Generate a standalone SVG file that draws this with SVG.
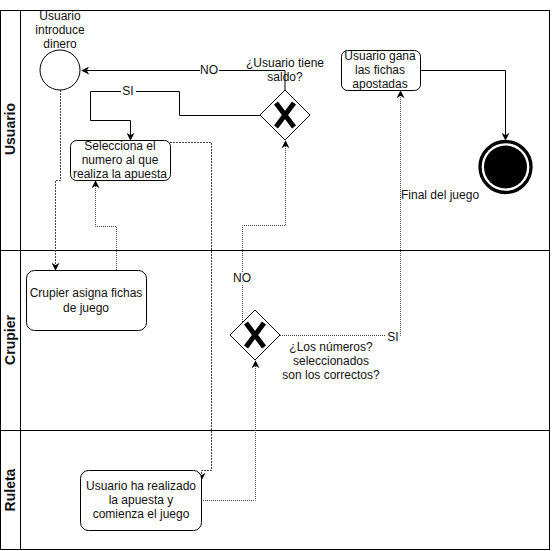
<svg xmlns="http://www.w3.org/2000/svg" width="552" height="551" viewBox="0 0 552 551">
<style>
text{font-family:"Liberation Sans",Arial,sans-serif;font-size:12px;fill:#111;text-anchor:middle}
.lane{font-size:14px;font-weight:bold}
.box{fill:#fff;stroke:#000;stroke-width:1}
.e{fill:none;stroke:#000;stroke-width:1}
.d{fill:none;stroke:#444;stroke-width:1;stroke-dasharray:2 1}
.o{fill:none;stroke:#444;stroke-width:1;stroke-dasharray:1 1}
.lbl{fill:#fff;stroke:none}
.x{stroke:#000;stroke-width:5;fill:none}
</style>
<defs>
<marker id="a" viewBox="0 0 10 10" refX="9" refY="5" markerWidth="8" markerHeight="8" markerUnits="userSpaceOnUse" orient="auto">
<path d="M0,0 L10,5 L0,10 L3,5 z" fill="#000"/>
</marker>
</defs>
<rect width="552" height="551" fill="#fff"/>
<g id="pool">
<rect x="0.5" y="10.5" width="549" height="539" fill="none" stroke="#000"/>
<line x1="20.5" y1="10" x2="20.5" y2="550" stroke="#000"/>
<line x1="0" y1="250.5" x2="550" y2="250.5" stroke="#000"/>
<line x1="0" y1="430.5" x2="550" y2="430.5" stroke="#000"/>
<text class="lane" transform="translate(15,129) rotate(-90)">Usuario</text>
<text class="lane" transform="translate(15,340) rotate(-90)">Crupier</text>
<text class="lane" transform="translate(15,490) rotate(-90)">Ruleta</text>
</g>
<g id="connectors">
<path class="e" d="M285,90 V70.5 H82" marker-end="url(#a)"/>
<rect class="lbl" x="200" y="64" width="19" height="12"/>
<text x="209" y="74">NO</text>
<path class="e" d="M260,115.5 H179.5 V91.5 H90.5 V120.5 H130.5 V140" marker-end="url(#a)"/>
<rect class="lbl" x="121" y="85" width="15" height="12"/>
<text x="128" y="95">SI</text>
<path class="e" d="M420,70.5 H505.5 V140" marker-end="url(#a)"/>
<path class="d" d="M60.5,90 V180.5 H55.5 V270" marker-end="url(#a)"/>
<path class="o" d="M116.5,270 V226.5 H95.5 V181" marker-end="url(#a)"/>
<path class="d" d="M170,142.5 H211.5 V470.5 H201.5 V480" marker-end="url(#a)"/>
<path class="o" d="M201,500.5 H255.5 V361" marker-end="url(#a)"/>
<path class="o" d="M242.5,322 V225.5 H285.5 V141" marker-end="url(#a)"/>
<rect class="lbl" x="232" y="272" width="21" height="12"/>
<text x="242" y="282">NO</text>
<path class="o" d="M280,335.5 H400.5 V91" marker-end="url(#a)"/>
<rect class="lbl" x="386" y="331" width="14" height="12"/>
<text x="393" y="341">SI</text>
<text x="401" y="199" style="text-anchor:start">Final del juego</text>
</g>
<g id="start">
<circle cx="60" cy="70" r="20" class="box"/>
<text x="60" y="20">Usuario</text>
<text x="60" y="34">introduce</text>
<text x="60" y="48">dinero</text>
</g>
<g id="selecciona">
<rect x="70.5" y="140.5" width="100" height="40" rx="6" class="box"/>
<text x="120" y="150">Selecciona el</text>
<text x="120" y="164">numero al que</text>
<text x="120" y="178">realiza la apuesta</text>
</g>
<g id="gw1">
<path d="M285,90 L310,115 L285,140 L260,115 Z" class="box"/>
<path d="M276,103 L294,127 M294,103 L276,127" class="x"/>
<text x="285" y="67">¿Usuario tiene</text>
<text x="285" y="81">saldo?</text>
</g>
<g id="gana">
<rect x="341.5" y="50.5" width="79" height="40" rx="6" class="box"/>
<text x="380" y="60">Usuario gana</text>
<text x="380" y="74">las fichas</text>
<text x="380" y="88">apostadas</text>
</g>
<g id="end">
<circle cx="505.5" cy="167" r="25.5" fill="#fff" stroke="#000" stroke-width="3.3"/>
<circle cx="505.5" cy="167" r="21.5" fill="#000"/>
</g>
<g id="crupier">
<rect x="26.5" y="270.5" width="120" height="60" rx="8" class="box"/>
<text x="86" y="297">Crupier asigna fichas</text>
<text x="86" y="312">de juego</text>
</g>
<g id="gw2">
<path d="M255,310 L280,335 L255,360 L230,335 Z" class="box"/>
<path d="M246,323 L264,347 M264,323 L246,347" class="x"/>
<text x="331" y="351">¿Los números?</text>
<text x="331" y="365">seleccionados</text>
<text x="331" y="379">son los correctos?</text>
</g>
<g id="ruleta">
<rect x="80.5" y="470.5" width="121" height="60" rx="8" class="box"/>
<text x="141" y="490">Usuario ha realizado</text>
<text x="141" y="504">la apuesta y</text>
<text x="141" y="518">comienza el juego</text>
</g>
</svg>
